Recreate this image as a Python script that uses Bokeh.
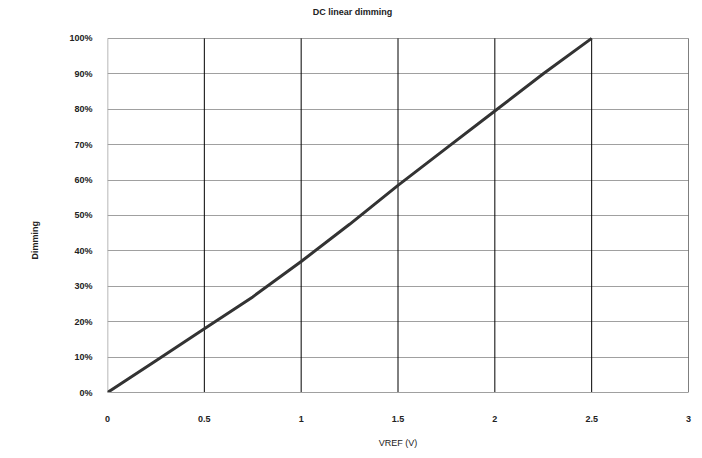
from bokeh.plotting import figure
from bokeh.embed import file_html
from bokeh.resources import INLINE
from bokeh.models import FixedTicker, Range1d, Label

vref = [0, 0.25, 0.5, 0.75, 1.0, 1.25, 1.5, 1.75, 2.0, 2.25, 2.5]
dimming = [0.0, 0.09, 0.18, 0.27, 0.37, 0.475, 0.585, 0.69, 0.795, 0.90, 1.0]

x_ticks = [0, 0.5, 1, 1.5, 2, 2.5, 3]
x_tick_labels = ["0", "0.5", "1", "1.5", "2", "2.5", "3"]
y_ticks = [i / 10 for i in range(11)]
y_tick_labels = ["0%", "10%", "20%", "30%", "40%", "50%", "60%", "70%", "80%", "90%", "100%"]
title_text = "DC linear dimming"
x_title = "VREF (V)"
y_title = "Dimming"

FONT = "Liberation Sans"

# frame extends to the top of the canvas so the title can live inside it
p = figure(width=694, height=450, output_backend="svg", toolbar_location=None,
           x_range=Range1d(0, 3), y_range=Range1d(0, 393 / 355),
           min_border_left=107, min_border_right=6, min_border_top=0, min_border_bottom=57)

p.outline_line_color = None

# horizontal grid (gray)
p.ygrid.ticker = FixedTicker(ticks=y_ticks[1:])
p.ygrid.grid_line_color = "#a0a0a0"
p.ygrid.grid_line_width = 1
p.xgrid.grid_line_color = None

# vertical grid lines (black) up to 100%, plus plot borders
p.segment(x0=x_ticks[1:], y0=[0] * 6, x1=x_ticks[1:], y1=[1] * 6,
          line_color="#000000", line_width=1)
p.line(x=[x_ticks[0], x_ticks[0]], y=[0, 1], line_color="#a0a0a0", line_width=1.5)

# title
p.add_layout(Label(x=1.265, y=(393 - 12) / 355, text=title_text,
                   text_font=FONT, text_font_size="9px", text_font_style="bold",
                   text_color="#222222", text_align="center", text_baseline="middle"))

# x axis
p.xaxis.ticker = FixedTicker(ticks=x_ticks)
p.xaxis.major_label_overrides = dict(zip(x_ticks, x_tick_labels))
p.xaxis.axis_label = x_title
p.xaxis.axis_line_color = "#a0a0a0"
p.xaxis.axis_line_width = 1
p.xaxis.major_tick_line_color = None
p.xaxis.minor_tick_line_color = None
p.xaxis.major_label_standoff = 17
p.xaxis.axis_label_standoff = 13
p.xaxis.major_label_text_font = FONT
p.xaxis.major_label_text_font_size = "9px"
p.xaxis.major_label_text_font_style = "bold"
p.xaxis.axis_label_text_font = FONT
p.xaxis.axis_label_text_font_size = "9px"
p.xaxis.axis_label_text_font_style = "normal"
p.xaxis.major_label_text_color = "#222222"
p.xaxis.axis_label_text_color = "#222222"

# y axis (trailing no-break spaces push the rotated label down to the frame's centre)
p.yaxis.ticker = FixedTicker(ticks=y_ticks)
p.yaxis.major_label_overrides = dict(zip(y_ticks, y_tick_labels))
p.yaxis.axis_label = y_title + "\u00a0" * 35
p.yaxis.axis_line_color = None
p.yaxis.major_tick_line_color = None
p.yaxis.minor_tick_line_color = None
p.yaxis.major_label_standoff = 9
p.yaxis.axis_label_standoff = 26
p.yaxis.major_label_text_font = FONT
p.yaxis.major_label_text_font_size = "9px"
p.yaxis.major_label_text_font_style = "bold"
p.yaxis.axis_label_text_font = FONT
p.yaxis.axis_label_text_font_size = "9px"
p.yaxis.axis_label_text_font_style = "bold"
p.yaxis.major_label_text_color = "#222222"
p.yaxis.axis_label_text_color = "#222222"

p.line(x=vref, y=dimming, line_color="#333333", line_width=3)

open("out.html", "w").write(file_html(p, INLINE))
